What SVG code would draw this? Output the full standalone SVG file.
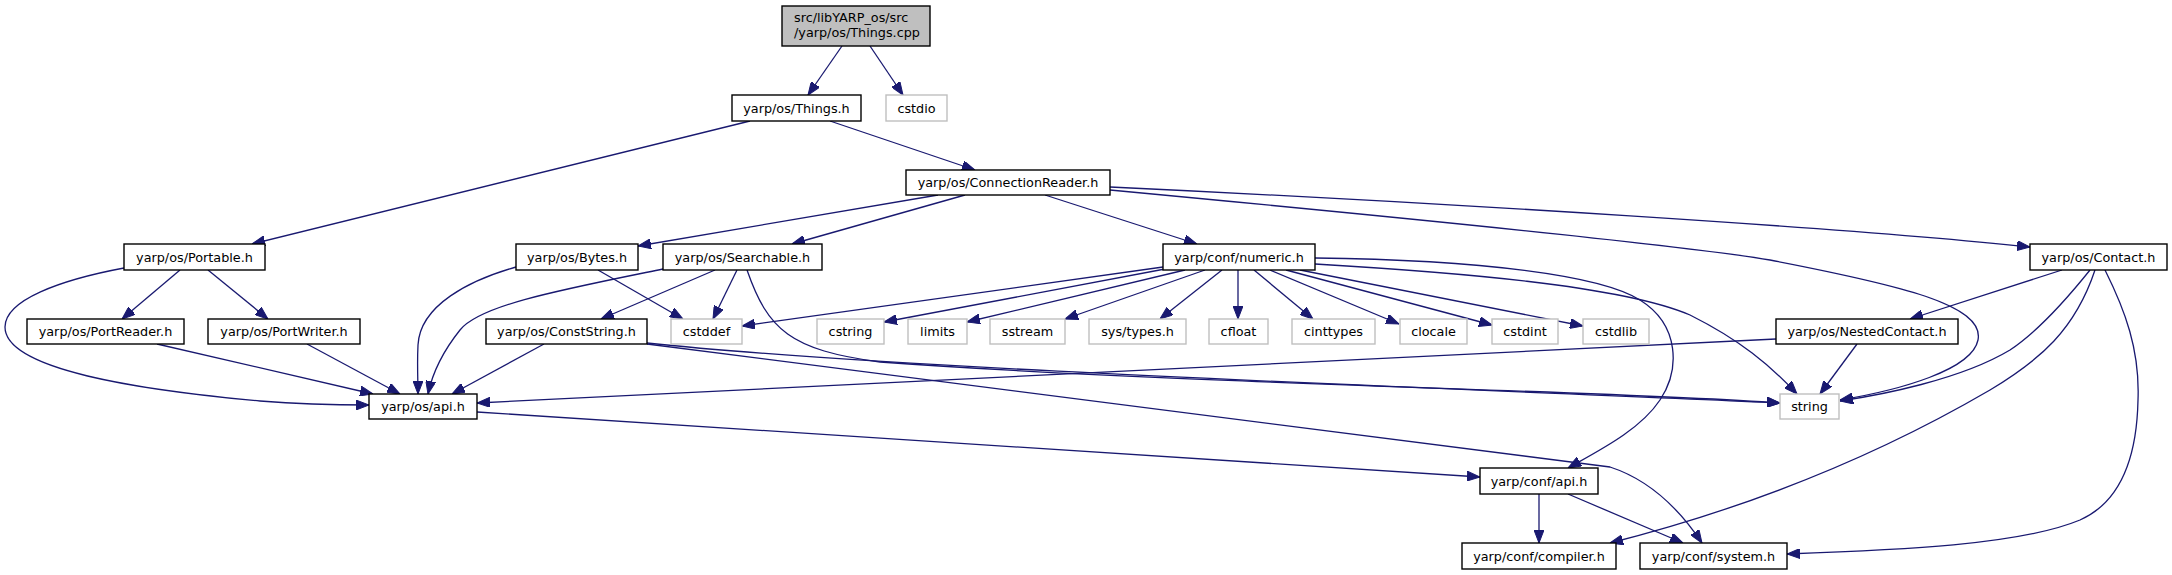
<svg xmlns="http://www.w3.org/2000/svg" width="2172" height="575" viewBox="0 0 2172 575">
<style>
.n rect{fill:#ffffff;stroke:#000000;stroke-width:1.4}
.x rect{fill:#ffffff;stroke:#bfbfbf;stroke-width:1.4}
.r rect{fill:#bfbfbf;stroke:#000000;stroke-width:1.4}
text{font-family:"DejaVu Sans",sans-serif;font-size:12.8px;fill:#000000}
.m{text-anchor:middle}
#edges path{fill:none;stroke:#191970;stroke-width:1.3;marker-end:url(#ah)}
</style>
<defs>
<marker id="ah" viewBox="0 0 13 10" refX="13" refY="5" markerWidth="13" markerHeight="10" markerUnits="userSpaceOnUse" orient="auto">
<path d="M0,0 L13,5 L0,10 z" fill="#191970" stroke="#191970" stroke-width="1"/>
</marker>
</defs>
<rect x="0" y="0" width="2172" height="575" fill="#ffffff"/>
<g id="edges">
<path d="M842,46 L808,95"/>
<path d="M870,46 L903,95"/>
<path d="M750,121 L252,244"/>
<path d="M830,121 L975,170"/>
<path d="M938,195 L638,246"/>
<path d="M965,195 L792,244"/>
<path d="M1045,195 L1197,244"/>
<path d="M1110,187 C1450,203 1850,228 2030,247"/>
<path d="M1110,190 C1450,222 1700,248 1770,260 C1900,285 1985,305 1978,340 C1972,370 1900,390 1840,400"/>
<path d="M180,270 L122,319"/>
<path d="M208,270 L268,319"/>
<path d="M124,268 C60,280 5,300 5,327 C5,370 140,390 260,401 C310,405 340,405 369,405"/>
<path d="M157,344 L373,394"/>
<path d="M307,344 L400,394"/>
<path d="M516,267 C470,280 420,305 418,345 C417,365 418,380 418,394"/>
<path d="M598,270 L683,319"/>
<path d="M663,269 C560,290 480,305 460,330 C440,355 432,375 428,394"/>
<path d="M715,270 L601,319"/>
<path d="M737,270 L713,319"/>
<path d="M747,270 C768,330 790,350 880,362 C1200,385 1600,390 1780,403"/>
<path d="M544,344 L452,394"/>
<path d="M647,343 C900,370 1500,390 1780,403"/>
<path d="M647,344 L1610,467 C1650,480 1680,510 1702,543"/>
<path d="M1163,267 L742,326"/>
<path d="M1165,269 L884,322"/>
<path d="M1185,270 L967,322"/>
<path d="M1205,270 L1065,319"/>
<path d="M1222,270 L1160,319"/>
<path d="M1238,270 L1238,319"/>
<path d="M1254,270 L1313,319"/>
<path d="M1270,270 L1399,324"/>
<path d="M1286,270 L1492,325"/>
<path d="M1300,270 L1583,326"/>
<path d="M1315,264 C1450,272 1620,285 1690,315 C1740,340 1770,365 1797,394"/>
<path d="M1315,258 C1480,260 1600,275 1640,300 C1680,325 1680,370 1660,400 C1640,430 1600,450 1568,468"/>
<path d="M2062,270 L1910,319"/>
<path d="M2090,270 C2070,295 2040,330 2010,350 C1960,380 1880,395 1840,401"/>
<path d="M2095,270 C2075,330 2040,360 1990,390 C1870,460 1740,510 1610,543"/>
<path d="M2105,270 C2125,310 2140,350 2138,400 C2137,450 2125,500 2080,520 C2020,545 1900,550 1787,554"/>
<path d="M1857,344 L1820,394"/>
<path d="M1776,339 L477,403"/>
<path d="M477,412 L1480,477"/>
<path d="M1539,494 L1539,543"/>
<path d="M1568,494 L1683,543"/>
</g>
<g id="node_things_cpp" class="r"><rect x="782" y="6" width="148" height="40"/><text x="794" y="22">src/libYARP_os/src</text><text x="794" y="37">/yarp/os/Things.cpp</text></g>
<g id="node_things_h" class="n"><rect x="732" y="95" width="129" height="26"/><text class="m" x="796.5" y="112.5">yarp/os/Things.h</text></g>
<g id="node_cstdio" class="x"><rect x="886" y="95" width="61" height="26"/><text class="m" x="916.5" y="112.5">cstdio</text></g>
<g id="node_connectionreader" class="n"><rect x="906" y="170" width="204" height="25"/><text class="m" x="1008" y="187">yarp/os/ConnectionReader.h</text></g>
<g id="node_portable" class="n"><rect x="124" y="244" width="141" height="26"/><text class="m" x="194.5" y="261.5">yarp/os/Portable.h</text></g>
<g id="node_bytes" class="n"><rect x="516" y="244" width="122" height="26"/><text class="m" x="577" y="261.5">yarp/os/Bytes.h</text></g>
<g id="node_searchable" class="n"><rect x="663" y="244" width="159" height="26"/><text class="m" x="742.5" y="261.5">yarp/os/Searchable.h</text></g>
<g id="node_numeric" class="n"><rect x="1163" y="244" width="152" height="26"/><text class="m" x="1239" y="261.5">yarp/conf/numeric.h</text></g>
<g id="node_contact" class="n"><rect x="2030" y="244" width="137" height="26"/><text class="m" x="2098.5" y="261.5">yarp/os/Contact.h</text></g>
<g id="node_portreader" class="n"><rect x="27" y="319" width="157" height="25"/><text class="m" x="105.5" y="336">yarp/os/PortReader.h</text></g>
<g id="node_portwriter" class="n"><rect x="208" y="319" width="152" height="25"/><text class="m" x="284" y="336">yarp/os/PortWriter.h</text></g>
<g id="node_conststring" class="n"><rect x="486" y="319" width="161" height="25"/><text class="m" x="566.5" y="336">yarp/os/ConstString.h</text></g>
<g id="node_cstddef" class="x"><rect x="671" y="319" width="71" height="25"/><text class="m" x="706.5" y="336">cstddef</text></g>
<g id="node_cstring" class="x"><rect x="817" y="319" width="67" height="25"/><text class="m" x="850.5" y="336">cstring</text></g>
<g id="node_limits" class="x"><rect x="908" y="319" width="59" height="25"/><text class="m" x="937.5" y="336">limits</text></g>
<g id="node_sstream" class="x"><rect x="990" y="319" width="75" height="25"/><text class="m" x="1027.5" y="336">sstream</text></g>
<g id="node_systypes" class="x"><rect x="1089" y="319" width="97" height="25"/><text class="m" x="1137.5" y="336">sys/types.h</text></g>
<g id="node_cfloat" class="x"><rect x="1209" y="319" width="59" height="25"/><text class="m" x="1238.5" y="336">cfloat</text></g>
<g id="node_cinttypes" class="x"><rect x="1292" y="319" width="83" height="25"/><text class="m" x="1333.5" y="336">cinttypes</text></g>
<g id="node_clocale" class="x"><rect x="1400" y="319" width="67" height="25"/><text class="m" x="1433.5" y="336">clocale</text></g>
<g id="node_cstdint" class="x"><rect x="1492" y="319" width="66" height="25"/><text class="m" x="1525" y="336">cstdint</text></g>
<g id="node_cstdlib" class="x"><rect x="1583" y="319" width="66" height="25"/><text class="m" x="1616" y="336">cstdlib</text></g>
<g id="node_nestedcontact" class="n"><rect x="1776" y="319" width="182" height="25"/><text class="m" x="1867" y="336">yarp/os/NestedContact.h</text></g>
<g id="node_os_api" class="n"><rect x="369" y="394" width="108" height="25"/><text class="m" x="423" y="411">yarp/os/api.h</text></g>
<g id="node_string" class="x"><rect x="1780" y="394" width="59" height="25"/><text class="m" x="1809.5" y="411">string</text></g>
<g id="node_conf_api" class="n"><rect x="1480" y="468" width="118" height="26"/><text class="m" x="1539" y="485.5">yarp/conf/api.h</text></g>
<g id="node_compiler" class="n"><rect x="1462" y="543" width="154" height="26"/><text class="m" x="1539" y="560.5">yarp/conf/compiler.h</text></g>
<g id="node_system" class="n"><rect x="1640" y="543" width="147" height="26"/><text class="m" x="1713.5" y="560.5">yarp/conf/system.h</text></g>
</svg>
